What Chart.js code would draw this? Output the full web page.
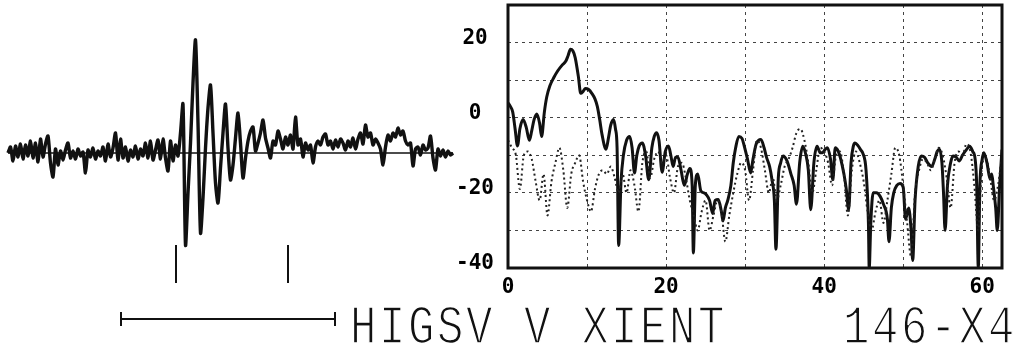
<!DOCTYPE html>
<html>
<head>
<meta charset="utf-8">
<script src="https://cdn.jsdelivr.net/npm/chart.js@4.4.1/dist/chart.umd.min.js"></script>
<style>
  html, body { margin: 0; padding: 0; background: #fff; }
  body { width: 1025px; height: 360px; position: relative; overflow: hidden; }
  #trace { position: absolute; left: 0; top: 0; }
  #spectrum { position: absolute; left: 440px; top: 0; }
  #caption {
    position: absolute; left: 350px; top: 302px;
    font-family: "Liberation Mono", "DejaVu Sans Mono", monospace;
    font-size: 44px; line-height: 44px; letter-spacing: 2.6px;
    color: #111; white-space: pre;
    -webkit-text-stroke: 1.3px #fff;
    transform: scaleY(1.22); transform-origin: 0 0;
  }
</style>
</head>
<body>
<canvas id="trace" width="460" height="340"></canvas>
<canvas id="spectrum" width="585" height="300"></canvas>
<div id="caption">HIGSV V XIENT    146-X4</div>
<script>
// Vertical-component seismogram, counts, one sample every 0.5 s
const sampleInterval = 0.5;
const traceAmp = [
  0, 6, -8, 7, -4, 9, -6, 8, -3, 12,
  -5, 10, -9, 14, -4, 9, 17, -10, -24, 4,
  -12, 2, -7, 3, 10, -5, 2, -6, 4, -3,
  1, -20, 3, -4, 5, -6, 2, -3, 6, -8,
  9, -4, 5, 20, -7, 14, -5, 6, -8, 3,
  -4, 7, -6, 4, -3, 10, -5, 12, -7, 3,
  13, -6, 14, -5, -18, 12, -8, 8, -3, 20,
  49, -92, -40, 10, 70, 113, 30, -80, -45, 5,
  45, 68, 20, -30, -50, -15, 20, 49, 5, -27,
  -12, 15, 40, 10, -25, -5, 12, 22, 26, 2,
  10, 20, 33, 15, 5, -5, 12, 8, 22, 14,
  4, 16, 8, 18, 4, 36, 8, 14, -4, 10,
  3, 8, -10, 6, 12, 8, 16, 19, 8, 12,
  4, 13, 6, 14, 10, 3, 12, 6, 15, 4,
  14, 20, 9, 28, 16, 20, 8, 14, 10, 4,
  -12, 6, 18, 12, 20, 16, 25, 18, 22, 12,
  8, 10, -13, 4, 6, -2, 8, 3, 5, 17,
  -5, -17, 4, -3, 3, -4, 2, -2, 0
];
// Phase picks (s) and the window they bracket
const pickTimes = [33.6, 56.0];
const pickAmpRange = [-92, -130];
// Time scale bar (s)
const scaleBarTimes = [22.6, 65.4];
const scaleBarAmp = -166;
const scaleBarCap = 7;

// Amplitude spectra, dB versus frequency
const signalFreq = [
  0.0, 0.3, 0.6, 0.9, 1.2, 1.5, 1.9, 2.3, 2.7, 3.0,
  3.3, 3.65, 4.0, 4.25, 4.6, 4.9, 5.3, 5.8, 6.3, 6.85,
  7.3, 7.6, 7.9, 8.2, 8.5, 8.9, 9.2, 9.5, 9.8, 10.2,
  10.6, 11.0, 11.3, 11.6, 11.9, 12.4, 12.7, 13.0, 13.35, 13.6,
  13.8, 14.0, 14.3, 14.6, 15.0, 15.4, 15.7, 16.0, 16.3, 16.6,
  17.0, 17.4, 17.8, 18.2, 18.5, 18.8, 19.1, 19.5, 19.9, 20.3,
  20.6, 20.9, 21.2, 21.5, 21.9, 22.3, 22.7, 23.0, 23.3, 23.45,
  23.7, 24.0, 24.4, 24.8, 25.1, 25.5, 25.9, 26.2, 26.6, 27.0,
  27.2, 27.5, 27.8, 28.2, 28.5, 28.8, 29.2, 29.6, 29.9, 30.3,
  30.7, 31.0, 31.4, 32.0, 32.4, 32.7, 33.1, 33.4, 33.7, 33.9,
  34.2, 34.5, 34.8, 35.3, 35.8, 36.2, 36.5, 36.9, 37.3, 37.7,
  38.0, 38.3, 38.7, 39.1, 39.5, 39.8, 40.1, 40.4, 40.8, 41.1,
  41.4, 41.8, 42.1, 42.5, 42.8, 43.1, 43.4, 43.7, 43.9, 44.3,
  44.6, 44.9, 45.3, 45.6, 45.7, 45.9, 46.2, 46.6, 47.1, 47.5,
  48.0, 48.2, 48.5, 48.8, 49.2, 49.6, 50.0, 50.3, 50.7, 51.0,
  51.2, 51.5, 51.9, 52.3, 52.7, 53.1, 53.6, 54.0, 54.3, 54.6,
  54.9, 55.1, 55.3, 55.6, 56.0, 56.3, 56.7, 57.1, 57.5, 58.0,
  58.4, 58.8, 59.1, 59.3, 59.5, 59.7, 60.0, 60.2, 60.6, 61.0,
  61.2, 61.4, 61.7, 61.9, 62.2, 62.5
];
const signalDb = [
  4, 3, 1.5, -3, -7.5, -3, -0.5, -2.5, -6, -3.5,
  -0.5, 1, -1.5, -5, 1.5, 5.5, 8.5, 10.7, 12.5, 14,
  15, 16.5, 18.2, 17.8, 16, 11, 6.5, 7, 7.8, 7.5,
  6.5, 5, 3, -0.5, -4.5, -8.4, -5.5, -2, -0.5, -3,
  -8, -34, -17, -10, -6, -5, -8, -14.7, -10, -7.5,
  -6.7, -10, -16.5, -8, -5, -4, -6, -14.5, -9, -7.5,
  -10, -13, -10.5, -10.5, -14, -18, -15, -13.5, -18, -36,
  -18, -15, -19.5, -20, -20.5, -22, -25.5, -22, -21.8, -25,
  -27.5, -24, -22, -18, -12, -8, -5, -5.5, -7.6, -11,
  -14.7, -11, -7, -5.8, -8, -10.5, -13, -16.5, -22, -35,
  -16, -12, -10.2, -11.5, -15, -18, -23, -12, -7.6, -10,
  -14, -24.5, -12, -7.6, -9.3, -9.3, -8.5, -8, -11, -16.5,
  -8, -9, -11, -15, -19, -24.5, -12, -7.5, -6.7, -7.5,
  -8.5, -9.5, -14, -28, -40, -28, -20, -20, -21, -23,
  -27, -33, -24, -20, -18, -17.5, -18.5, -27, -24, -30,
  -38, -22, -13, -10.2, -10.5, -12, -13, -11, -9, -8.4,
  -12, -20, -30, -18, -12, -10.2, -10.5, -11.5, -10, -8.5,
  -7.6, -9, -11, -18, -40, -18, -11, -9.3, -12, -16.4,
  -15, -18.2, -24, -30, -18, -8.5
];
// Noise-window spectrum, one value every 0.5 Hz from 0
const noiseStep = 0.5;
const noiseDb = [
  -6, -8, -10, -19, -10, -9, -11, -17, -22, -15,
  -26, -17, -12, -8, -14, -24, -15, -12, -10, -17,
  -22, -25, -19, -15, -14, -15, -13, -16, -20, -15,
  -20, -14, -18, -25, -12, -9, -16, -11, -9, -12,
  -10, -16, -20, -13, -12, -16, -22, -26, -30, -25,
  -22, -30, -26, -22, -25, -33, -26, -20, -15, -12,
  -14, -22, -14, -6, -8, -14, -20, -16, -22, -18,
  -13, -11, -8, -4, -3, -6, -12, -20, -14, -8,
  -9, -12, -18, -10, -9, -15, -26, -14, -9, -12,
  -17, -25, -30, -25, -22, -28, -22, -15, -8, -10,
  -18, -28, -37, -20, -14, -11, -12, -14, -11, -8,
  -10, -16, -24, -12, -9, -10, -7, -9, -18, -30,
  -12, -11, -16, -22, -18, -10
];
const xTickLabels = [0, 20, 40, 60];
const yTickLabels = [20, 0, -20, -40];

const ink = '#111';

// ---- seismogram panel ----
const tracePoints = traceAmp.map((a, i) => ({ x: i * sampleInterval, y: a }));
const traceEnd = (traceAmp.length - 1) * sampleInterval;

const traceSets = [
  { data: [{ x: 0, y: 0 }, { x: traceEnd, y: 0 }], borderWidth: 1.5, tension: 0 },
  { data: tracePoints, borderWidth: 3.4, tension: 0.25 }
];
pickTimes.forEach(t => {
  traceSets.push({ data: [{ x: t, y: pickAmpRange[0] }, { x: t, y: pickAmpRange[1] }], borderWidth: 2 });
});
traceSets.push({ data: [{ x: scaleBarTimes[0], y: scaleBarAmp }, { x: scaleBarTimes[1], y: scaleBarAmp }], borderWidth: 2 });
scaleBarTimes.forEach(t => {
  traceSets.push({ data: [{ x: t, y: scaleBarAmp - scaleBarCap }, { x: t, y: scaleBarAmp + scaleBarCap }], borderWidth: 2 });
});
traceSets.forEach(d => { d.borderColor = ink; d.pointRadius = 0; d.fill = false; if (d.tension === undefined) d.tension = 0; });

new Chart(document.getElementById('trace'), {
  type: 'line',
  data: { datasets: traceSets },
  options: {
    responsive: false, animation: false, events: [],
    layout: { padding: 0 },
    plugins: { legend: { display: false }, tooltip: { enabled: false } },
    scales: {
      x: { type: 'linear', min: -1.6, max: 90.4, display: false },
      y: { type: 'linear', min: -187, max: 153, display: false }
    }
  }
});

// ---- spectrum panel ----
const frame = {
  id: 'frame',
  afterDatasetsDraw(chart) {
    const a = chart.chartArea, c = chart.ctx;
    c.save();
    c.strokeStyle = ink;
    c.lineWidth = 3;
    c.strokeRect(a.left, a.top, a.right - a.left, a.bottom - a.top);
    c.restore();
  }
};

const tickFont = { family: 'DejaVu Sans Mono', weight: 'bold', size: 21 };

new Chart(document.getElementById('spectrum'), {
  type: 'line',
  data: {
    datasets: [
      {
        data: noiseDb.map((v, i) => ({ x: i * noiseStep, y: v })),
        borderColor: '#222', borderWidth: 2, borderDash: [2, 3],
        pointRadius: 0, tension: 0.3, cubicInterpolationMode: 'monotone'
      },
      {
        data: signalFreq.map((f, i) => ({ x: f, y: signalDb[i] })),
        borderColor: ink, borderWidth: 3,
        pointRadius: 0, tension: 0.3, cubicInterpolationMode: 'monotone'
      }
    ]
  },
  options: {
    responsive: false, animation: false, events: [],
    layout: { padding: { top: 5, right: 23, left: 0, bottom: 0 } },
    plugins: { legend: { display: false }, tooltip: { enabled: false } },
    scales: {
      x: {
        type: 'linear', min: 0, max: 62.5,
        afterFit(s) { s.height = 32; s.paddingLeft = 0; s.paddingRight = 0; },
        grid: { color: '#444', lineWidth: 1, drawTicks: false },
        border: { display: false, dash: [3, 4] },
        ticks: {
          stepSize: 10, includeBounds: false, autoSkip: false, maxRotation: 0,
          padding: 7, color: '#000', font: tickFont,
          callback: v => xTickLabels.includes(v) ? String(v) : ''
        }
      },
      y: {
        type: 'linear', min: -40, max: 30,
        afterFit(s) { s.width = 68; s.paddingTop = 0; s.paddingBottom = 0; },
        grid: { color: '#444', lineWidth: 1, drawTicks: false },
        border: { display: false, dash: [3, 4] },
        ticks: {
          stepSize: 10, autoSkip: false, crossAlign: 'center',
          padding: 14, labelOffset: -4, color: '#000', font: tickFont,
          callback: v => yTickLabels.includes(v) ? String(v) : ''
        }
      }
    }
  },
  plugins: [frame]
});
</script>
</body>
</html>
